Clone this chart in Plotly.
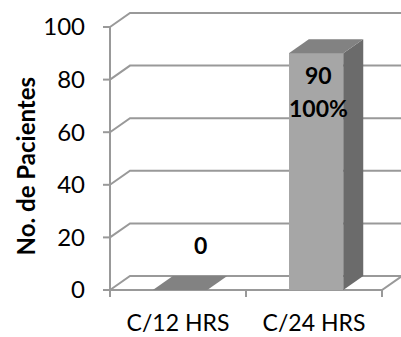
import plotly.graph_objects as go

# ---- data ----
categories = ["C/12 HRS", "C/24 HRS"]
patients = [0, 90]
percent_labels = ["", "100%"]
y_ticks = [0, 20, 40, 60, 80, 100]
y_title = "No. de Pacientes"

# ---- layout geometry (pixels) ----
W, H = 401, 337
M_L, M_R, M_T = 100, 0, 10
ZERO_PX = 290          # pixel row of value 0 on the front plane
PX_PER_CAT = 136       # pixels per category on the x axis
PX_PER_UNIT = 2.63     # pixels per patient on the y axis
FRONT_LEFT_PX = 110    # pixel column of the front vertical axis
M_B = 37

plot_w = W - M_L - M_R
plot_h = H - M_T - M_B
x_left = -0.5
x_right = len(categories) - 0.5
X_MIN = x_left - (FRONT_LEFT_PX - M_L) / PX_PER_CAT
X_MAX = X_MIN + plot_w / PX_PER_CAT
Y_MIN = -(H - M_B - ZERO_PX) / PX_PER_UNIT
Y_MAX = Y_MIN + plot_h / PX_PER_UNIT

# depth of the 3-D box (receding offset) in data units
DX = 20 / PX_PER_CAT
DY = 14 / PX_PER_UNIT
TICK_X = 7 / PX_PER_CAT
TICK_Y = 7 / PX_PER_UNIT

BAR_W = 0.4
BAR_SHIFT = 0.015

GRID = "#999999"
FRONT = "#a6a6a6"
SIDE = "#6b6b6b"
TOP = "#828282"
FONT = "Lato"

shapes = []
line = dict(color=GRID, width=2)

# back wall gridlines with their receding left edge
for v in y_ticks[1:]:
    shapes.append(dict(
        type="path", xref="x", yref="y", layer="below", line=line,
        path=f"M {x_left},{v} L {x_left + DX},{v + DY} L {x_right + DX},{v + DY}",
    ))

# floor
shapes.append(dict(
    type="path", xref="x", yref="y", layer="below", line=line,
    fillcolor="white",
    path=(f"M {x_left},0 L {x_left + DX},{DY} L {x_right + DX},{DY} "
          f"L {x_right},0 Z"),
))

# front vertical axis with its tick marks
shapes.append(dict(
    type="path", xref="x", yref="y", layer="below", line=line,
    path=f"M {x_left},{-TICK_Y} L {x_left},{y_ticks[-1]}",
))
for v in y_ticks:
    shapes.append(dict(
        type="path", xref="x", yref="y", layer="below", line=line,
        path=f"M {x_left - TICK_X},{v} L {x_left},{v}",
    ))

# category separator ticks below the floor
for k in range(len(categories) + 1):
    xv = x_left + k
    shapes.append(dict(
        type="path", xref="x", yref="y", layer="below", line=line,
        path=f"M {xv},0 L {xv},{-TICK_Y}",
    ))

fig = go.Figure()

# front faces of the bars
fig.add_trace(go.Bar(
    x=list(range(len(categories))), y=patients,
    width=BAR_W, offset=-BAR_W / 2 + BAR_SHIFT,
    marker=dict(color=FRONT, line=dict(width=0)),
    hoverinfo="skip", showlegend=False,
))

# side and top faces of the bars
for i, v in enumerate(patients):
    left = i - BAR_W / 2 + BAR_SHIFT
    right = left + BAR_W
    if v > 0:
        fig.add_trace(go.Scatter(
            x=[right, right + DX, right + DX, right, right],
            y=[0, DY, v + DY, v, 0],
            mode="lines", fill="toself", fillcolor=SIDE,
            line=dict(width=0, color=SIDE), hoverinfo="skip",
            showlegend=False, cliponaxis=False,
        ))
    fig.add_trace(go.Scatter(
        x=[left, left + DX, right + DX, right, left],
        y=[v, v + DY, v + DY, v, v],
        mode="lines", fill="toself", fillcolor=TOP,
        line=dict(width=0, color=TOP), hoverinfo="skip",
        showlegend=False, cliponaxis=False,
    ))

# data labels
annotations = []
label_font = dict(family=FONT, size=23, color="black", weight="bold")
for i, (v, pct) in enumerate(zip(patients, percent_labels)):
    if pct:
        annotations.append(dict(x=i, y=v, xref="x", yref="y", text=str(v),
                                showarrow=False, xshift=4, yshift=-22,
                                font=label_font))
        annotations.append(dict(x=i, y=v, xref="x", yref="y", text=pct,
                                showarrow=False, xshift=4, yshift=-55,
                                font=label_font))
    else:
        annotations.append(dict(x=i, y=v, xref="x", yref="y", text=str(v),
                                showarrow=False, xshift=22, yshift=45,
                                font=label_font))

# vertical axis title
annotations.append(dict(
    x=(25 - M_L) / plot_w, y=47, xref="paper", yref="y",
    xanchor="center", yanchor="middle",
    text=y_title, textangle=-90, showarrow=False,
    font=dict(family=FONT, size=24, color="black", weight="bold"),
))

fig.update_layout(
    width=W, height=H,
    margin=dict(l=M_L, r=M_R, t=M_T, b=M_B, pad=0),
    paper_bgcolor="white", plot_bgcolor="white",
    shapes=shapes, annotations=annotations,
    bargap=0, showlegend=False,
    font=dict(family=FONT, size=20, color="black"),
    xaxis=dict(
        range=[X_MIN, X_MAX], tickvals=list(range(len(categories))),
        ticktext=categories, ticks="", showgrid=False, zeroline=False,
        showline=False, ticklabelstandoff=7,
        tickfont=dict(family=FONT, size=23, color="black"),
    ),
    yaxis=dict(
        range=[Y_MIN, Y_MAX], tickvals=y_ticks, ticks="",
        showgrid=False, zeroline=False, showline=False,
        ticklabelstandoff=14,
        tickfont=dict(family=FONT, size=24, color="black"),
    ),
)

fig.write_html("out.html")
